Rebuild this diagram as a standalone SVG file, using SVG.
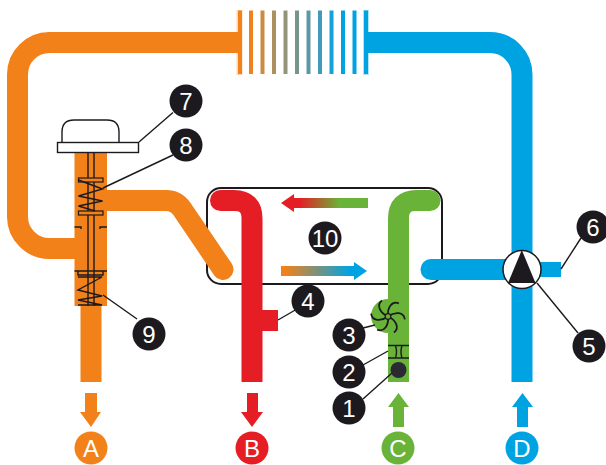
<svg xmlns="http://www.w3.org/2000/svg" width="606" height="465" viewBox="0 0 606 465">
<style>
.p{fill:none;stroke-width:21}
.o{stroke:#f28119}.r{stroke:#e51e26}.g{stroke:#69b438}.b{stroke:#00a3e2}
.k{fill:none;stroke:#1c1a1f;stroke-width:1.400}
.n{fill:#1c1a1f}
.t{font-family:"Liberation Sans",Arial,sans-serif;font-size:24px;fill:#fff;text-anchor:middle}
.f{stroke-width:4}
</style>
<defs>
<linearGradient id="gG" gradientUnits="userSpaceOnUse" x1="300" y1="0" x2="340" y2="0"><stop offset="0" stop-color="#e51e26"/><stop offset="1" stop-color="#69b438"/></linearGradient>
<linearGradient id="gB" gradientUnits="userSpaceOnUse" x1="285" y1="0" x2="350" y2="0"><stop offset="0" stop-color="#f28119"/><stop offset="1" stop-color="#00a3e2"/></linearGradient>
<path id="blade" d="M388 316.500C380 313 376 305 382 300.500" fill="none" stroke="#1c1a1f" stroke-width="1.800"/>
</defs>

<g id="box"><rect x="207" y="188" width="235" height="96" rx="14" fill="#fff" stroke="#1c1a1f" stroke-width="2"/></g>

<g id="exchanger">
<g stroke-width="6" opacity="0.3"><path stroke="#f28119" d="M239.500 10V75"/><path stroke="#00a3e2" d="M366 10V75"/></g>
<path class="f" stroke="#f28119" d="M240 10.500V74"/>
<path class="f" stroke="#ee8222" d="M251 10.500V74"/>
<path class="f" stroke="#ca8c42" d="M262.500 10.500V74"/>
<path class="f" stroke="#ae9060" d="M274 10.500V74"/>
<path class="f" stroke="#929378" d="M285.500 10.500V74"/>
<path class="f" stroke="#769488" d="M297 10.500V74"/>
<path class="f" stroke="#5c98a4" d="M308.500 10.500V74"/>
<path class="f" stroke="#3f9bbc" d="M320 10.500V74"/>
<path class="f" stroke="#14a0d8" d="M331.500 10.500V74"/>
<path class="f" stroke="#00a3e2" d="M343 10.500V74"/>
<path class="f" stroke="#00a3e2" d="M354.500 10.500V74"/>
<path class="f" stroke="#00a3e2" d="M366 10.500V74"/>
</g>

<g id="pipes">
<path class="p o" d="M241 42.500H50A32 32 0 0 0 17.500 75V216A32 32 0 0 0 50 248.500H85"/>
<path class="p o" d="M100 200.500H166Q176 200.500 182 209L223 269.500" stroke-linecap="round"/>
<path class="p o" d="M91 300V382"/>
<rect x="74.500" y="153" width="32.500" height="153" fill="#f28119"/>
<path class="p r" d="M220.500 200.500H234Q252 200.500 252 218.500V382"/>
<circle cx="220.500" cy="200.500" r="10.500" fill="#e51e26"/>
<rect x="262" y="310" width="16" height="21" fill="#e51e26"/>
<path class="p g" d="M430 200.500H416.500Q398.500 200.500 398.500 218.500V382"/>
<circle cx="430" cy="200.500" r="10.500" fill="#69b438"/>
<circle cx="388" cy="316" r="17" fill="#69b438"/>
<path class="p b" d="M367 42.500H490A32 32 0 0 1 522 75V382"/>
<path class="p b" d="M431 269.500H522"/>
<circle cx="431" cy="269.500" r="10.500" fill="#00a3e2"/>
<rect x="522" y="262" width="39" height="15" fill="#00a3e2"/>
</g>

<g id="connectors">
<path class="k" d="M139 142L173 112.500"/>
<path class="k" d="M103 188L173 155"/>
<path class="k" d="M103 295L137 319"/>
<path class="k" d="M278 320L297 309"/>
<path class="k" d="M363 328L375 325"/>
<path class="k" d="M363 365L388 351"/>
<path class="k" d="M363 399L392 373"/>
<path class="k" d="M561 269L581 238"/>
<path class="k" d="M537 283L578 333"/>
</g>

<g id="valve">
<path d="M62 142V132Q62 120 74 120H107Q119 120 119 132V142" fill="#fff" stroke="#1c1a1f" stroke-width="1.400"/>
<rect x="57.500" y="142.500" width="81" height="10" fill="#fff" stroke="#1c1a1f" stroke-width="1.400"/>
<path class="k" d="M88 152V306M94 152V306"/>
<rect x="78.500" y="178" width="24.500" height="4" fill="#f28119" stroke="#1c1a1f" stroke-width="1.200"/>
<rect x="78.500" y="211" width="24.500" height="4" fill="#f28119" stroke="#1c1a1f" stroke-width="1.200"/>
<path class="k" d="M78.500 180L102.500 189L78.500 196L102.500 201L78.500 206L95 211"/>
<path class="k" d="M74.500 227H81V229M107 227H100V229"/>
<path class="k" d="M74.500 271H107M78 271V275H103V271"/>
<path class="k" d="M78 277H102L78 290L102 296L78 300L102 305H78"/>
</g>

<g id="filter"><circle cx="398.500" cy="370" r="8" fill="#2b2a33"/></g>
<g id="restrictor"><path class="k" d="M388 345.500H409M388 358H409M395.500 345.500Q397.500 352 395.500 358M402 345.500Q400 352 402 358"/></g>
<g id="fan">
<use href="#blade"/>
<use href="#blade" transform="rotate(60 388 316.500)"/>
<use href="#blade" transform="rotate(120 388 316.500)"/>
<use href="#blade" transform="rotate(180 388 316.500)"/>
<use href="#blade" transform="rotate(240 388 316.500)"/>
<use href="#blade" transform="rotate(300 388 316.500)"/>
<circle cx="388" cy="316.500" r="2.800" fill="#69b438" stroke="#1c1a1f" stroke-width="1.200"/>
</g>

<g id="pump">
<circle cx="522" cy="269.500" r="19" fill="#fff" stroke="#1c1a1f" stroke-width="1.500"/>
<path class="n" d="M521.800 250L535.500 283H508Z"/>
</g>

<g id="flow-arrows">
<path fill="url(#gG)" d="M368 198V208H294V212L281 203L294 194V198Z"/>
<path fill="url(#gB)" d="M281 266V276H354V280L367 271L354 262V266Z"/>
<path fill="#f28119" d="M85 393H97V412H101L91 427L80 412H85Z"/>
<path fill="#e51e26" d="M247 393H258V412H263L252 427L241 412H247Z"/>
<path fill="#69b438" d="M393 427H404V407H409L398.500 393L388 407H393Z"/>
<path fill="#00a3e2" d="M517 427H528V407H533L522.500 393L512 407H517Z"/>
</g>

<g id="n1"><circle class="n" cx="349" cy="408" r="16.500"/><text class="t" x="349" y="416.500">1</text></g>
<g id="n2"><circle class="n" cx="349" cy="372" r="16.500"/><text class="t" x="349" y="380.500">2</text></g>
<g id="n3"><circle class="n" cx="349" cy="335" r="16.500"/><text class="t" x="349" y="343.500">3</text></g>
<g id="n4"><circle class="n" cx="308" cy="301" r="16.500"/><text class="t" x="308" y="309.500">4</text></g>
<g id="n5"><circle class="n" cx="589" cy="346" r="16.500"/><text class="t" x="589" y="354.500">5</text></g>
<g id="n6"><circle class="n" cx="593" cy="227" r="16.500"/><text class="t" x="593" y="235.500">6</text></g>
<g id="n7"><circle class="n" cx="186" cy="101" r="16.500"/><text class="t" x="186" y="109.500">7</text></g>
<g id="n8"><circle class="n" cx="186" cy="145" r="16.500"/><text class="t" x="186" y="153.500">8</text></g>
<g id="n9"><circle class="n" cx="149" cy="334" r="16.500"/><text class="t" x="149" y="342.500">9</text></g>
<g id="n10"><circle class="n" cx="325" cy="238" r="16.500"/><text class="t" x="325" y="246.500">10</text></g>
<g id="A"><circle fill="#f28119" cx="91" cy="448" r="16.500"/><text class="t" x="91" y="456.500">A</text></g>
<g id="B"><circle fill="#e51e26" cx="252" cy="448" r="16.500"/><text class="t" x="252" y="456.500">B</text></g>
<g id="C"><circle fill="#69b438" cx="398" cy="448" r="16.500"/><text class="t" x="398" y="456.500">C</text></g>
<g id="D"><circle fill="#00a3e2" cx="522" cy="448" r="16.500"/><text class="t" x="522" y="456.500">D</text></g>
</svg>
